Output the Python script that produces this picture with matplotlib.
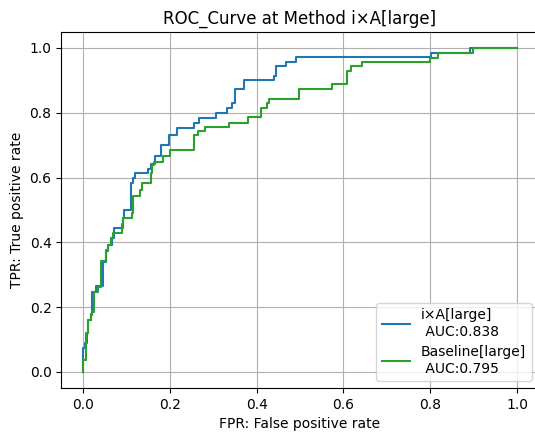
import matplotlib
matplotlib.use("Agg")
import matplotlib.pyplot as plt

# ROC corner points
fpr_ixa = [0, 0, 0.005, 0.005, 0.009, 0.009, 0.012, 0.012, 0.019, 0.019, 0.021, 0.021,
           0.031, 0.031, 0.045, 0.045, 0.054, 0.054, 0.058, 0.058, 0.066, 0.066, 0.072, 0.072,
           0.093, 0.093, 0.095, 0.095, 0.111, 0.111, 0.116, 0.116, 0.12, 0.12, 0.149, 0.149,
           0.157, 0.157, 0.166, 0.166, 0.18, 0.18, 0.197, 0.197, 0.216, 0.216, 0.256, 0.256,
           0.267, 0.267, 0.306, 0.306, 0.331, 0.331, 0.344, 0.344, 0.35, 0.35, 0.371, 0.371,
           0.44, 0.44, 0.445, 0.445, 0.468, 0.468, 0.49, 0.49, 0.803, 0.803, 0.892, 0.892, 1.0]
tpr_ixa = [0, 0.074, 0.074, 0.09, 0.09, 0.12, 0.12, 0.16, 0.16, 0.18, 0.18, 0.248,
           0.248, 0.265, 0.265, 0.34, 0.34, 0.373, 0.373, 0.392, 0.392, 0.415, 0.415, 0.443,
           0.443, 0.474, 0.474, 0.5, 0.5, 0.584, 0.584, 0.6, 0.6, 0.613, 0.613, 0.628,
           0.628, 0.642, 0.642, 0.668, 0.668, 0.70, 0.70, 0.73, 0.73, 0.754, 0.754, 0.767,
           0.767, 0.785, 0.785, 0.80, 0.80, 0.815, 0.815, 0.829, 0.829, 0.872, 0.872, 0.90,
           0.90, 0.914, 0.914, 0.944, 0.944, 0.958, 0.958, 0.971, 0.971, 0.984, 0.984, 1.0, 1.0]

fpr_base = [0, 0, 0.007, 0.007, 0.012, 0.012, 0.018, 0.018, 0.021, 0.021, 0.026, 0.026,
            0.034, 0.034, 0.041, 0.041, 0.053, 0.053, 0.058, 0.058, 0.064, 0.064, 0.07, 0.07,
            0.089, 0.089, 0.091, 0.091, 0.112, 0.112, 0.116, 0.116, 0.131, 0.131, 0.135, 0.135,
            0.157, 0.157, 0.16, 0.16, 0.164, 0.164, 0.185, 0.185, 0.2, 0.2, 0.256, 0.256,
            0.266, 0.266, 0.28, 0.28, 0.336, 0.336, 0.381, 0.381, 0.409, 0.409, 0.423, 0.423,
            0.429, 0.429, 0.498, 0.498, 0.573, 0.573, 0.609, 0.609, 0.617, 0.617, 0.644, 0.644,
            0.80, 0.80, 0.818, 0.818, 0.899, 0.899, 1.0]
tpr_base = [0, 0.037, 0.037, 0.119, 0.119, 0.16, 0.16, 0.176, 0.176, 0.186, 0.186, 0.248,
            0.248, 0.263, 0.263, 0.344, 0.344, 0.377, 0.377, 0.392, 0.392, 0.415, 0.415, 0.43,
            0.43, 0.457, 0.457, 0.474, 0.474, 0.49, 0.49, 0.543, 0.543, 0.562, 0.562, 0.584,
            0.584, 0.613, 0.613, 0.639, 0.639, 0.649, 0.649, 0.668, 0.668, 0.685, 0.685, 0.731,
            0.731, 0.744, 0.744, 0.755, 0.755, 0.77, 0.77, 0.787, 0.787, 0.816, 0.816, 0.829,
            0.829, 0.843, 0.843, 0.872, 0.872, 0.888, 0.888, 0.93, 0.93, 0.944, 0.944, 0.958,
            0.958, 0.97, 0.97, 0.985, 0.985, 1.0, 1.0]

auc_ixa = 0.838
auc_base = 0.795

fig = plt.figure(figsize=(5.35, 4.32), dpi=100)
ax = fig.add_axes([0.1146, 0.1014, 0.8923, 0.825])

ax.plot(fpr_ixa, tpr_ixa, color='tab:blue', label=f'i×A[large]\n AUC:{auc_ixa}')
ax.plot(fpr_base, tpr_base, color='tab:green', label=f'Baseline[large]\n AUC:{auc_base}')

ax.set_xlabel('FPR: False positive rate')
ax.set_ylabel('TPR: True positive rate')
ax.set_title('ROC_Curve at Method i×A[large]')
ax.grid(True)
leg = ax.legend(loc='lower right')
# labels are left aligned in the reference
for t in leg.get_texts():
    t.set_multialignment('left')

fig.savefig('out.png', dpi=100)
